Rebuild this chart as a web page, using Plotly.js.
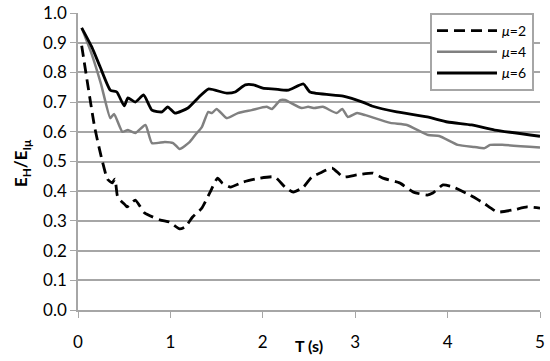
<!DOCTYPE html>
<html lang="en">
<head>
  <meta charset="UTF-8" />
  <title>E_H/E_Iμ vs T</title>
  <script src="https://cdn.plot.ly/plotly-3.0.1.min.js"></script>
  <style>
    body { margin: 0; background: #fff; }
    #chart { width: 550px; height: 361px; }
  </style>
</head>
<body>
<div id="chart"></div>
<script>
  // mu = 2 (dashed)
  const tMu2 = [0.04, 0.18, 0.26, 0.32, 0.37, 0.40, 0.43, 0.51, 0.53, 0.62, 0.72, 0.89, 0.99, 1.10, 1.16, 1.24, 1.34, 1.43, 1.51, 1.56, 1.65, 1.79, 1.97, 2.13, 2.24, 2.33, 2.44, 2.53, 2.62, 2.75, 2.87, 3.02, 3.19, 3.30, 3.48, 3.63, 3.78, 3.84, 3.95, 4.06, 4.24, 4.39, 4.54, 4.71, 4.86, 5.0];
  const vMu2 = [0.89, 0.616, 0.505, 0.44, 0.428, 0.441, 0.38, 0.354, 0.347, 0.37, 0.327, 0.303, 0.296, 0.273, 0.28, 0.313, 0.343, 0.397, 0.444, 0.428, 0.414, 0.431, 0.444, 0.448, 0.414, 0.397, 0.414, 0.448, 0.461, 0.478, 0.448, 0.455, 0.461, 0.444, 0.428, 0.397, 0.387, 0.394, 0.421, 0.414, 0.387, 0.36, 0.33, 0.337, 0.347, 0.343];

  // mu = 4 (grey)
  const tMu4 = [0.04, 0.15, 0.25, 0.35, 0.39, 0.48, 0.54, 0.62, 0.73, 0.80, 0.94, 1.03, 1.10, 1.21, 1.27, 1.34, 1.41, 1.45, 1.50, 1.61, 1.73, 1.88, 2.04, 2.10, 2.19, 2.24, 2.42, 2.49, 2.56, 2.65, 2.80, 2.86, 2.92, 3.02, 3.11, 3.38, 3.56, 3.79, 3.91, 4.11, 4.29, 4.40, 4.46, 4.59, 5.0];
  const vMu4 = [0.95, 0.86, 0.76, 0.646, 0.66, 0.60, 0.606, 0.596, 0.623, 0.562, 0.566, 0.562, 0.542, 0.566, 0.59, 0.616, 0.667, 0.663, 0.677, 0.646, 0.663, 0.673, 0.684, 0.677, 0.707, 0.707, 0.68, 0.684, 0.68, 0.684, 0.663, 0.677, 0.65, 0.663, 0.656, 0.63, 0.623, 0.589, 0.586, 0.556, 0.549, 0.545, 0.556, 0.556, 0.547];

  // mu = 6 (black)
  const tMu6 = [0.04, 0.15, 0.24, 0.35, 0.42, 0.50, 0.54, 0.62, 0.71, 0.80, 0.91, 0.97, 1.05, 1.19, 1.30, 1.41, 1.61, 1.70, 1.81, 1.90, 2.0, 2.13, 2.27, 2.44, 2.51, 2.87, 3.08, 3.18, 3.45, 3.78, 4.0, 4.26, 4.51, 5.0];
  const vMu6 = [0.95, 0.885, 0.818, 0.74, 0.734, 0.687, 0.714, 0.70, 0.724, 0.673, 0.667, 0.684, 0.663, 0.68, 0.714, 0.744, 0.73, 0.734, 0.758, 0.758, 0.747, 0.744, 0.74, 0.761, 0.734, 0.72, 0.70, 0.687, 0.667, 0.65, 0.633, 0.623, 0.606, 0.585];

  const xTicks = [0, 1, 2, 3, 4, 5];
  const seriesNames = ["<i>μ</i>=2", "<i>μ</i>=4", "<i>μ</i>=6"];

  const font = "Lato, 'Open Sans', sans-serif";
  const axisGrey = "#a6a6a6";

  const traces = [
    { x: tMu2, y: vMu2, name: seriesNames[0], type: "scatter", mode: "lines",
      line: { color: "#000", width: 2.8, dash: "11px,6px", shape: "spline", smoothing: 0.5 } },
    { x: tMu4, y: vMu4, name: seriesNames[1], type: "scatter", mode: "lines",
      line: { color: "#808080", width: 2.5, shape: "spline", smoothing: 0.5 } },
    { x: tMu6, y: vMu6, name: seriesNames[2], type: "scatter", mode: "lines",
      line: { color: "#000", width: 2.8, shape: "spline", smoothing: 0.5 } }
  ];

  const layout = {
    width: 550,
    height: 361,
    margin: { l: 78, r: 10, t: 13, b: 51 },
    paper_bgcolor: "#fff",
    plot_bgcolor: "#fff",
    font: { family: font, color: "#000", size: 17 },
    showlegend: true,
    legend: {
      x: 0.987, xanchor: "right", y: 1, yanchor: "top",
      bgcolor: "#fff", bordercolor: axisGrey, borderwidth: 2,
      font: { size: 14, family: font },
      itemwidth: 60,
      tracegroupgap: 0
    },
    xaxis: {
      range: [0, 5],
      tickvals: xTicks,
      ticktext: xTicks.map(String),
      showgrid: false,
      zeroline: false,
      showline: true,
      linecolor: axisGrey,
      linewidth: 1.5,
      ticks: "outside",
      ticklen: 6,
      tickcolor: axisGrey,
      tickfont: { size: 17 },
      ticklabelstandoff: 10
    },
    yaxis: {
      range: [0, 1.0],
      dtick: 0.1,
      tickformat: ".1f",
      showgrid: true,
      gridcolor: axisGrey,
      gridwidth: 1.5,
      zeroline: false,
      showline: true,
      linecolor: axisGrey,
      linewidth: 1.5,
      ticks: "outside",
      ticklen: 6,
      tickcolor: axisGrey,
      tickfont: { size: 17 }
    },
    annotations: [
      { text: "<b>T (s)</b>", xref: "paper", yref: "paper", x: 0.5, y: -0.118,
        xanchor: "center", yanchor: "middle", showarrow: false, font: { size: 16 } },
      { text: "<b>E<sub>H</sub>/E<sub>Iμ</sub></b>", xref: "paper", yref: "paper", x: -0.121, y: 0.495,
        xanchor: "center", yanchor: "middle", textangle: -90, showarrow: false, font: { size: 17 } }
    ]
  };

  Plotly.newPlot("chart", traces, layout, { displayModeBar: false, responsive: false });
</script>
</body>
</html>
